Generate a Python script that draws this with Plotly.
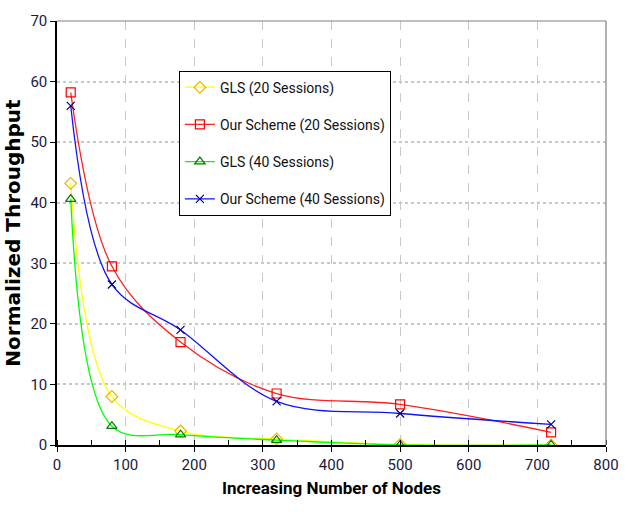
import plotly.graph_objects as go

nodes = [20, 80, 180, 320, 500, 720]
gls_20 = [43.2, 8.0, 2.3, 1.0, 0.1, 0.0]
ours_20 = [58.2, 29.5, 17.0, 8.5, 6.7, 2.1]
gls_40 = [40.6, 3.1, 1.7, 0.8, 0.0, 0.0]
ours_40 = [56.0, 26.5, 19.0, 7.2, 5.2, 3.4]

series = [
    ("GLS (20 Sessions)", gls_20, "#FFFF00", "#E8B800", "diamond-open", 9),
    ("Our Scheme (20 Sessions)", ours_20, "#FF2020", "#FF0000", "square-open", 9),
    ("GLS (40 Sessions)", gls_40, "#00FF00", "#007A00", "triangle-up-open", 9),
    ("Our Scheme (40 Sessions)", ours_40, "#1010FF", "#000080", "x-thin-open", 8),
]

NARROW = "Roboto, Liberation Sans, sans-serif"

fig = go.Figure()
for i, (name, ys, lc, mc, sym, ms) in enumerate(series):
    fig.add_trace(go.Scatter(
        x=nodes, y=ys, name=name, mode="lines+markers",
        line=dict(color=lc, width=1.3, shape="spline", smoothing=1.0),
        marker=dict(symbol=sym, size=ms, color=mc, line=dict(color=mc, width=1.2)),
        legendgroup=f"g{i}",
    ))

fig.update_layout(
    width=631, height=515,
    margin=dict(l=55, r=13, t=18, b=70),
    paper_bgcolor="white", plot_bgcolor="white",
    showlegend=True,
    legend=dict(
        x=0.222, y=0.883, xanchor="left", yanchor="top",
        bgcolor="white", bordercolor="black", borderwidth=1,
        font=dict(family=NARROW, size=14, color="#111"),
        tracegroupgap=16, itemwidth=30,
    ),
    xaxis=dict(
        range=[0, 800], dtick=100, tick0=0,
        showgrid=True, gridcolor="#C8C8C8", griddash="dash", gridwidth=1,
        showline=True, linecolor="black", linewidth=1.5,
        ticks="outside", ticklen=5, tickcolor="black",
        minor=dict(dtick=50, ticks="inside", ticklen=5, tickcolor="black", showgrid=False),
        tickfont=dict(family=NARROW, size=15, color="#1a1a3a"),
        zeroline=False,
        title=dict(text="Increasing Number of Nodes",
                   font=dict(family=NARROW, size=17, color="black", weight="bold"),
                   standoff=9),
    ),
    yaxis=dict(
        range=[0, 70], dtick=10, tick0=0,
        showgrid=True, gridcolor="#C8C8C8", griddash="dot", gridwidth=1.5,
        showline=True, linecolor="black", linewidth=1.5,
        ticks="outside", ticklen=5, tickcolor="black",
        tickfont=dict(family=NARROW, size=15, color="#1a1a3a"),
        zeroline=False,
        title=dict(text="Normalized Throughput",
                   font=dict(family="DejaVu Sans", size=20, color="black", weight="bold"),
                   standoff=4),
    ),
    shapes=[
        dict(type="line", xref="paper", yref="paper", x0=0, x1=1, y0=1, y1=1,
             line=dict(color="#808080", width=1.2), layer="above"),
        dict(type="line", xref="paper", yref="paper", x0=1, x1=1, y0=0, y1=1,
             line=dict(color="#808080", width=1.2), layer="above"),
    ],
)

fig.write_html("out.html")
